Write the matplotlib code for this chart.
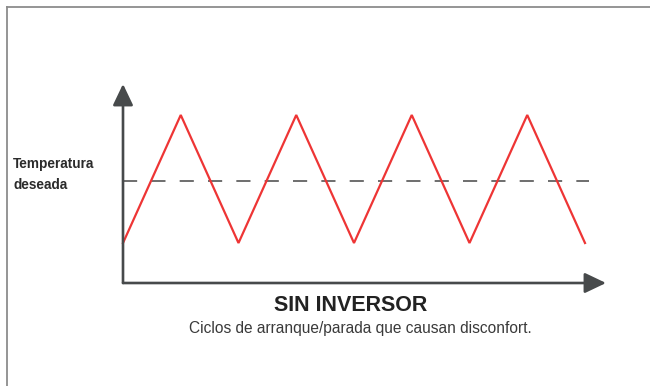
import matplotlib
matplotlib.use("Agg")
import matplotlib.pyplot as plt
from matplotlib.lines import Line2D

# ---- data ----
cycle_points = [0, 1, 2, 3, 4, 5, 6, 7, 8]
temperature = [18, 26, 18, 26, 18, 26, 18, 26, 18]
desired_temp = 21.9
desired_span = [0, 8.07]
label_lines = ["Temperatura", "deseada"]
title_text = "SIN INVERSOR"
subtitle_text = "Ciclos de arranque/parada que causan disconfort."

W, H = 650, 386
fig = plt.figure(figsize=(W / 100, H / 100), dpi=100)
fig.patch.set_facecolor("white")

def fx(px):
    return px / W

def fy(py):
    return 1 - py / H

# frame lines (top and left)
fig.add_artist(Line2D([fx(6.5), fx(6.5)], [fy(6.5), fy(386)], transform=fig.transFigure,
                      color="#8c8c8c", lw=1.3))
fig.add_artist(Line2D([fx(6.5), fx(650)], [fy(6.5), fy(6.5)], transform=fig.transFigure,
                      color="#8c8c8c", lw=1.3))

# axes: origin at pixel (123, 283), arrow tips at x=606 and y=84
left, right, bottom, top = 123, 606, 283, 84
ax = fig.add_axes([fx(left), fy(bottom), fx(right) - fx(left), fy(top) - fy(bottom)])
ax.set_xlim(0, (right - left) / 57.75)
ax.set_ylim(18 - (bottom - 243) / 16.0, 26 + (115 - top) / 16.0)
ax.axis("off")

axis_color = "#474a4b"
arrow = dict(arrowstyle="-|>,head_length=1.3,head_width=0.62", color=axis_color,
             lw=1.9, mutation_scale=10, shrinkA=0, shrinkB=0)
ax.annotate("", xy=(0, 1), xytext=(0, 0), xycoords="axes fraction",
            textcoords="axes fraction", arrowprops=arrow, annotation_clip=False)
ax.annotate("", xy=(1, 0), xytext=(0, 0), xycoords="axes fraction",
            textcoords="axes fraction", arrowprops=arrow, annotation_clip=False)

# desired temperature dashed line
dl, = ax.plot(desired_span, [desired_temp, desired_temp], color="#555555", lw=1.2,
              solid_capstyle="butt", dash_capstyle="butt", clip_on=False)
dl.set_dashes([10.2 / 1.2, 10.2 / 1.2])

# temperature zigzag
ax.plot(cycle_points, temperature, color="#ee3535", lw=1.6, clip_on=False,
        solid_joinstyle="miter")

# texts
fig.text(fx(13), fy(168), label_lines[0], fontsize=9.8, fontweight="bold",
         family="Liberation Sans", color="#2b2b2b", ha="left", va="baseline")
fig.text(fx(13), fy(189), label_lines[1], fontsize=9.8, fontweight="bold",
         family="Liberation Sans", color="#2b2b2b", ha="left", va="baseline")
fig.text(fx(351), fy(311), title_text, fontsize=15.5, fontweight="bold",
         family="Liberation Sans", color="#222222", ha="center", va="baseline")
fig.text(fx(360.5), fy(333), subtitle_text, fontsize=11.2,
         family="Liberation Sans", color="#3a3a3a", ha="center", va="baseline")

fig.savefig("out.png", dpi=100, facecolor="white")
